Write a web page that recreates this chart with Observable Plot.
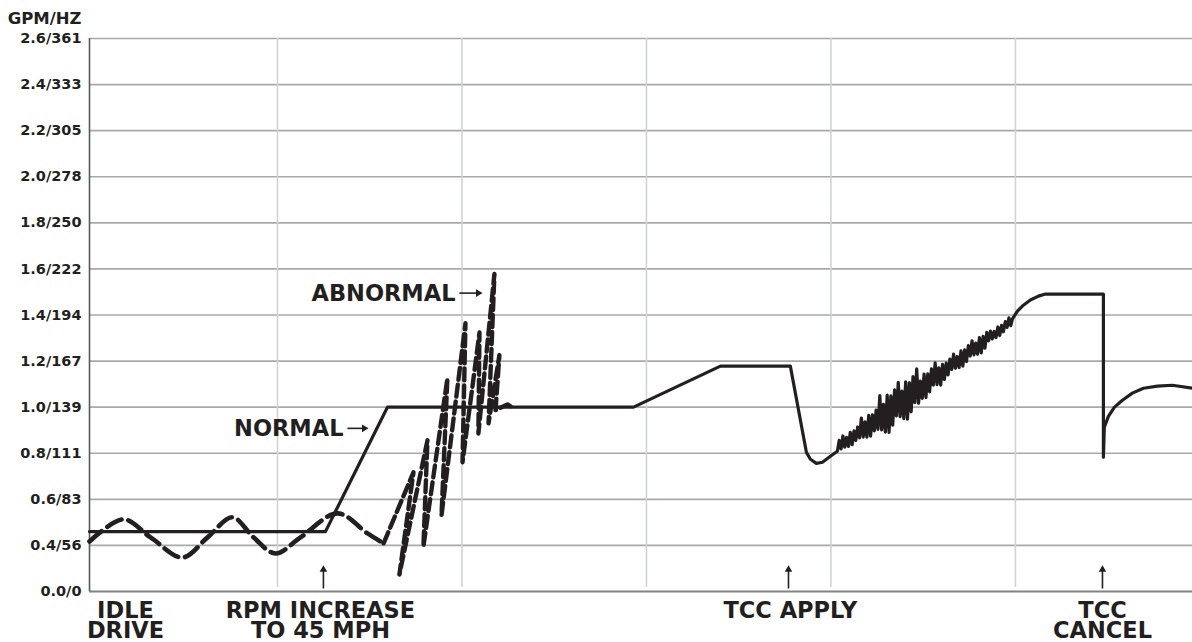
<!DOCTYPE html>
<html><head><meta charset="utf-8">
<script src="https://cdn.jsdelivr.net/npm/d3@7"></script>
<script src="https://cdn.jsdelivr.net/npm/@observablehq/plot@0.6"></script>
<style>html,body{margin:0;padding:0;background:#fff}#chart svg{display:block}</style>
</head><body><div id="chart"></div>
<script>
// ---- data ----
const yTicks = [0, 0.4, 0.6, 0.8, 1.0, 1.2, 1.4, 1.6, 1.8, 2.0, 2.2, 2.4, 2.6];
const yLabels = ["0.0/0", "0.4/56", "0.6/83", "0.8/111", "1.0/139", "1.2/167", "1.4/194", "1.6/222", "1.8/250", "2.0/278", "2.2/305", "2.4/333", "2.6/361"];
const unitLabel = "GPM/HZ";
const xGrid = [10, 20, 30, 40, 50];
const xStart = -0.19, xEnd = 59.6;

// normal (solid) trace
const normalT = [-0.19, 12.60, 15.96, 29.30, 34.01, 37.80, 38.67, 38.89, 39.21, 39.54, 39.97, 40.35,
  40.45, 40.55, 40.65, 40.75, 40.85, 40.95, 41.05, 41.15, 41.25, 41.35,
  41.45, 41.55, 41.65, 41.75, 41.85, 41.95, 42.05, 42.15, 42.25, 42.35,
  42.45, 42.55, 42.65, 42.75, 42.85, 42.95, 43.05, 43.15, 43.25, 43.35,
  43.45, 43.55, 43.65, 43.75, 43.85, 43.95, 44.05, 44.15, 44.25, 44.35,
  44.45, 44.55, 44.65, 44.75, 44.85, 44.95, 45.05, 45.15, 45.25, 45.35,
  45.45, 45.55, 45.65, 45.75, 45.85, 45.95, 46.05, 46.15, 46.25, 46.35,
  46.45, 46.55, 46.65, 46.75, 46.85, 46.95, 47.05, 47.15, 47.25, 47.35,
  47.45, 47.55, 47.65, 47.75, 47.85, 47.95, 48.05, 48.15, 48.25, 48.35,
  48.45, 48.55, 48.65, 48.75, 48.85, 48.95, 49.05, 49.15, 49.25, 49.35,
  49.45, 49.55, 49.65, 49.75,
  49.84, 50.11, 50.38, 50.81, 51.25, 51.63, 54.77, 54.77, 54.82, 55.04, 55.37, 55.80, 56.34, 56.94, 57.70, 58.51, 59.59];
const normalV = [0.46, 0.46, 1.0, 1.0, 1.178, 1.178, 0.804, 0.774, 0.756, 0.761, 0.787, 0.809,
  0.856, 0.819, 0.875, 0.826, 0.869, 0.830, 0.891, 0.837, 0.897, 0.856,
  0.914, 0.867, 0.953, 0.870, 0.936, 0.870, 0.964, 0.874, 0.967, 0.897,
  0.987, 0.904, 1.050, 0.901, 1.012, 0.892, 1.052, 0.890, 1.049, 0.922,
  1.075, 0.962, 1.108, 0.959, 1.070, 0.950, 1.110, 0.948, 1.107, 0.980,
  1.133, 1.020, 1.166, 1.017, 1.113, 1.038, 1.143, 1.041, 1.145, 1.066,
  1.166, 1.096, 1.192, 1.098, 1.171, 1.096, 1.186, 1.120, 1.191, 1.140,
  1.209, 1.164, 1.230, 1.169, 1.220, 1.172, 1.244, 1.178, 1.249, 1.198,
  1.267, 1.222, 1.288, 1.227, 1.278, 1.230, 1.302, 1.236, 1.307, 1.256,
  1.325, 1.288, 1.330, 1.296, 1.329, 1.302, 1.348, 1.311, 1.355, 1.327,
  1.371, 1.346, 1.388, 1.354,
  1.383, 1.417, 1.439, 1.465, 1.482, 1.491, 1.491, 0.783, 0.913, 0.960, 1.0, 1.030, 1.061, 1.082, 1.091, 1.095, 1.082];

// abnormal (dashed) trace: idle wave, then surging spikes
const waveT = [-0.19, 1.65, 3.12, 4.85, 6.21, 7.56, 8.70, 9.89, 11.25, 13.25, 14.88, 15.75];
const waveV = [0.417, 0.513, 0.435, 0.295, 0.435, 0.522, 0.435, 0.330, 0.435, 0.539, 0.452, 0.409];
const spikeT = [15.75, 17.37, 16.61, 18.13, 17.91, 19.21, 18.89, 20.19, 20.03, 20.95, 20.89, 21.76, 21.44, 22.03, 21.82, 22.47, 22.63];
const spikeV = [0.409, 0.717, 0.148, 0.856, 0.391, 1.125, 0.530, 1.364, 0.761, 1.324, 0.886, 1.578, 0.930, 1.226, 0.987, 1.012, 1.004];

// event labels under the axis, and the arrows that mark them
const eventNames = ["IDLE\nDRIVE", "RPM INCREASE\nTO 45 MPH", "TCC APPLY", "TCC\nCANCEL"];
const eventLabelT = [1.76, 12.33, 37.80, 54.72];
const eventArrowT = [12.49, 37.70, 54.72];

// series annotations
const seriesNames = ["NORMAL", "ABNORMAL"];
const seriesLabelT = [13.58, 19.65];
const seriesLabelV = [0.904, 1.491];
const seriesArrowT1 = [13.79, 19.86];
const seriesArrowT2 = [14.70, 20.88];
const seriesArrowV = [0.908, 1.495];

// ---- build ----
const zip = (xs, ys) => xs.map((x, i) => ({x, y: ys[i]}));
const normal = zip(normalT, normalV);
const wave = zip(waveT, waveV);
const spikes = zip(spikeT, spikeV);
const events = eventNames.map((name, i) => ({name, t: eventLabelT[i]}));
const arrows = eventArrowT.map(t => ({t}));
const ann = seriesNames.map((name, i) => ({name, t: seriesLabelT[i], v: seriesLabelV[i], t1: seriesArrowT1[i], t2: seriesArrowT2[i], va: seriesArrowV[i]}));

const ink = "#231f20";
const chart = Plot.plot({
  width: 1192, height: 642,
  marginLeft: 89, marginRight: 0, marginTop: 38, marginBottom: 51,
  x: {domain: [xStart, xEnd], axis: null},
  y: {type: "linear", domain: yTicks, axis: null},
  style: {fontFamily: "'DejaVu Sans', sans-serif", fontWeight: "bold", background: "white", overflow: "visible"},
  marks: [
    Plot.ruleY(yTicks.slice(1), {stroke: "#a7a9ac", strokeWidth: 1.6}),
    Plot.ruleX(xGrid, {y1: 0.035, y2: 2.6, stroke: "#d1d3d4", strokeWidth: 1.6}),
    Plot.ruleY([0], {stroke: "#808285", strokeWidth: 2}),
    Plot.ruleX([xStart], {y1: 0, y2: 2.6, stroke: "#58595b", strokeWidth: 1.6}),
    Plot.text(yTicks, {y: d => d, text: (d, i) => yLabels[i], frameAnchor: "left", textAnchor: "end", dx: -8, fontSize: 14.5, fill: ink}),
    Plot.text([unitLabel], {text: d => d, frameAnchor: "top-left", textAnchor: "end", dx: -8, dy: -26, fontSize: 16.5, fill: ink}),
    Plot.line(wave, {x: "x", y: "y", curve: "catmull-rom", stroke: ink, strokeWidth: 4.6, strokeDasharray: "16,7"}),
    Plot.line(spikes, {x: "x", y: "y", stroke: ink, strokeWidth: 4.4, strokeDasharray: "12,5", strokeLinejoin: "round"}),
    Plot.line(normal, {x: "x", y: "y", stroke: ink, strokeWidth: 3.2, strokeLinejoin: "round"}),
    Plot.text(ann, {x: "t", y: "v", text: "name", textAnchor: "end", fontSize: 22.5, fill: ink}),
    Plot.link(ann, {x1: "t1", x2: "t2", y1: "va", y2: "va", stroke: ink, strokeWidth: 1.6}),
    Plot.dot(ann, {x: "t2", y: "va", symbol: "triangle", r: 2.8, rotate: 90, fill: ink, stroke: null}),
    Plot.link(arrows, {x1: "t", x2: "t", y1: 0.026, y2: 0.19, stroke: ink, strokeWidth: 1.6}),
    Plot.dot(arrows, {x: "t", y: 0.19, symbol: "triangle", r: 2.8, fill: ink, stroke: null}),
    Plot.text(events, {x: "t", text: "name", frameAnchor: "bottom", lineAnchor: "top", dy: 12, fontSize: 22.5, lineHeight: 0.9, textAnchor: "middle", fill: ink})
  ]
});
document.getElementById("chart").appendChild(chart);
</script>
</body></html>
